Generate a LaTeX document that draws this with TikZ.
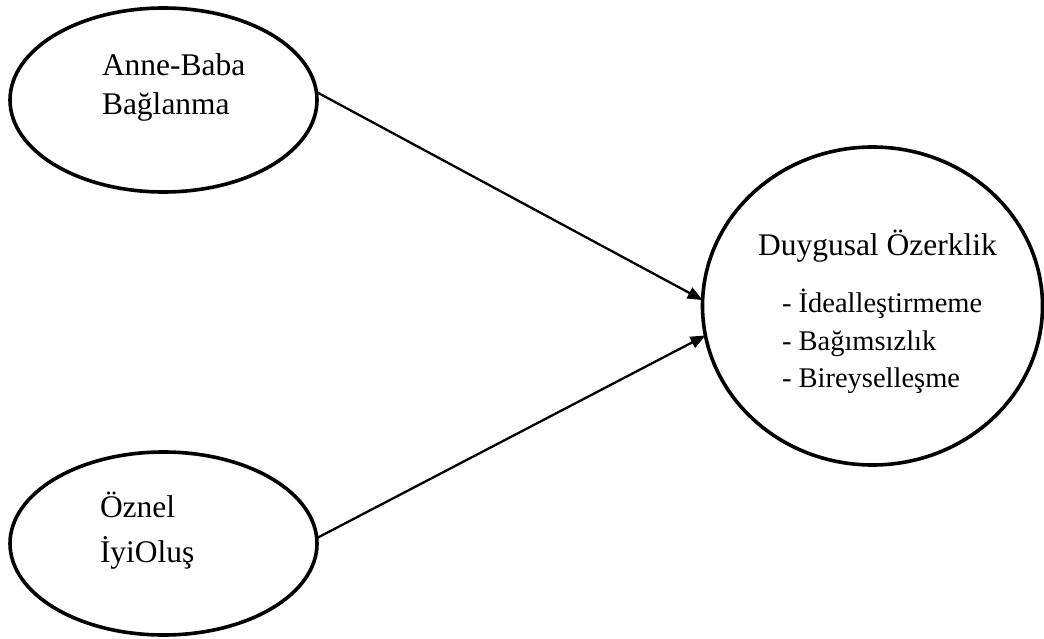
\documentclass[tikz,border=0pt]{standalone}
\usepackage{fontspec}
\setmainfont{Liberation Serif}
\usetikzlibrary{shapes.geometric,arrows.meta}
\begin{document}
\begin{tikzpicture}[x=1pt,y=-1pt,
  oval/.style={ellipse, draw, line width=3.6pt, inner sep=0pt, outer sep=0pt},
  lbl/.style={anchor=base west, inner sep=0pt, outer sep=0pt, font=\fontsize{31.5}{38}\selectfont},
  item/.style={anchor=base west, inner sep=0pt, outer sep=0pt, font=\fontsize{28.5}{34}\selectfont},
  link/.style={line width=2.3pt, -{Triangle[length=15pt,width=12pt]}}]
\useasboundingbox (0,0) rectangle (1044,639);
\fill[white] (0,0) rectangle (1044,639);
% shapes
\node[oval, minimum width=307pt, minimum height=184pt] (a) at (163.5,100) {};
\node[oval, minimum width=307pt, minimum height=183pt] (b) at (163.5,543.5) {};
\node[oval, minimum width=340pt, minimum height=318pt] (c) at (872.5,306) {};
% texts
\node[lbl] (a1) at (102,76) {Anne-Baba};
\node[lbl] (a2) at (102,115) {Bağlanma};
\node[lbl] (b1) at (100,517) {Öznel};
\node[lbl] (b2) at (100,562) {İyiOluş};
\node[lbl] (c0) at (758,255) {Duygusal Özerklik};
\node[item] (c1) at (782,312) {- İdealleştirmeme};
\node[item] (c2) at (782,350) {- Bağımsızlık};
\node[item] (c3) at (782,387) {- Bireyselleşme};
% connectors
\draw[link] (a.3) -- (c.178);
\draw[link] (b.2) -- (c.190);
\end{tikzpicture}
\end{document}
